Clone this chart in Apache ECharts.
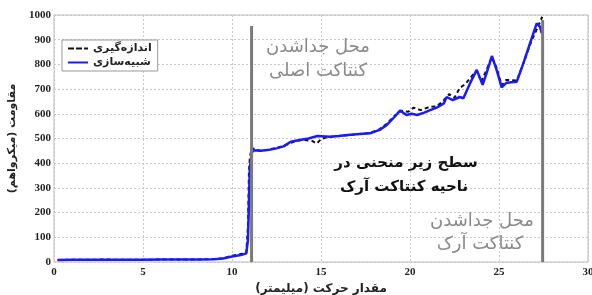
<!DOCTYPE html>
<html lang="fa">
<head>
    <meta charset="UTF-8">
    <script src="https://cdn.jsdelivr.net/npm/echarts@6/dist/echarts.min.js"></script>
    <title>مقاومت</title>
</head>
<body style="margin:0;">
<div id="container" style="width:592px;height:295px;"></div>
<script>
    // measured curve (black dashed)
    let measured = [
        [0.2, 8], [1, 9], [2, 9], [2.7, 10], [2.8, 16], [2.9, 10], [4, 9], [5, 9], [6, 10], [7, 10],
        [8, 10], [9, 12], [9.5, 15], [10, 25], [10.5, 32], [10.8, 35], [10.9, 150], [10.95, 360],
        [11.0, 420], [11.1, 462], [11.2, 455], [11.6, 450], [12.0, 455], [12.5, 462], [12.9, 470],
        [13.5, 488], [14.0, 495], [14.5, 490], [14.76, 480], [15.0, 497], [15.3, 505], [16, 510],
        [17, 517], [17.75, 522], [18.3, 538], [18.7, 560], [19.1, 590], [19.5, 612], [19.9, 608],
        [20.2, 625], [20.6, 615], [21.1, 628], [21.5, 630], [21.9, 655], [22.2, 680], [22.5, 665],
        [22.8, 705], [23.1, 720], [23.5, 755], [23.75, 775], [24.0, 730], [24.3, 778], [24.6, 830],
        [24.87, 785], [25.15, 715], [25.4, 737], [26.0, 735], [26.4, 810], [26.8, 890], [27.2, 955],
        [27.43, 993]
    ];
    // simulated curve (blue)
    let simulated = [
        [0.2, 8], [1, 9], [2, 9], [3, 9], [4, 9], [5, 9], [6, 10], [7, 10], [8, 10], [9, 11],
        [9.5, 14], [10, 22], [10.5, 28], [10.8, 35], [10.9, 90], [11.0, 380], [11.1, 440],
        [11.2, 452], [11.6, 450], [12.0, 453], [12.5, 460], [12.9, 468], [13.3, 487], [13.8, 494],
        [14.3, 500], [14.8, 510], [15.5, 507], [16, 510], [16.5, 514], [17.0, 517], [17.75, 521],
        [18.3, 535], [18.7, 555], [19.1, 585], [19.44, 613], [19.8, 595], [20.1, 600], [20.4, 595],
        [20.8, 605], [21.1, 614], [21.5, 625], [21.9, 642], [22.06, 668], [22.4, 655], [22.8, 668],
        [23.0, 663], [23.37, 723], [23.75, 778], [24.08, 717], [24.3, 764], [24.6, 834],
        [24.87, 777], [25.15, 707], [25.43, 726], [26.0, 730], [26.37, 804], [26.74, 885],
        [27.12, 966], [27.3, 953], [27.4, 926]
    ];
    // contact separation markers
    let mainContact = [[11.1, 0], [11.1, 955]];
    let arcContact = [[27.45, 0], [27.45, 980]];

    let xTicks = [0, 5, 10, 15, 20, 25, 30];
    let yTicks = [0, 100, 200, 300, 400, 500, 600, 700, 800, 900, 1000];

    let seriesNames = ['اندازه‌گیری', 'شبیه‌سازی'];
    let xName = 'مقدار حرکت (میلیمتر)';
    let yName = 'مقاومت (میکرواهم)';
    let noteMain = ['محل جداشدن', 'کنتاکت اصلی'];
    let noteArea = ['سطح زیر منحنی در', 'ناحیه کنتاکت آرک'];
    let noteArc = ['محل جداشدن', 'کنتاکت آرک'];

    let fa = 'DejaVu Sans';
    let serif = 'Liberation Serif';

    let myChart = echarts.init(document.getElementById('container'));

    let gridLine = {show: true, lineStyle: {color: '#c8c8c8', type: [2, 2], width: 1}};
    let tickLabel = {
        color: '#222', fontFamily: serif, fontWeight: 'bold', fontSize: 11,
        formatter: function (v) { return String(v); }
    };

    function txt(x, y, s, color, size, weight) {
        return {
            type: 'text', x: x, y: y, z: 10,
            style: {text: s, fill: color, font: weight + ' ' + size + 'px "' + fa + '"', align: 'center', verticalAlign: 'middle'}
        };
    }

    let option = {
        animation: false,
        backgroundColor: '#fff',
        grid: {
            left: 54, right: 4, top: 15, bottom: 33, show: true, borderColor: '#bbb', borderWidth: 1,
            outerBoundsMode: 'none', containLabel: false
        },
        legend: {
            orient: 'vertical', left: 62, top: 40,
            data: [
                {name: seriesNames[0], icon: 'path://M0,0h6v2h-6zM8,0h6v2h-6zM16,0h4v2h-4z'},
                {name: seriesNames[1], icon: 'path://M0,0h20v2h-20z'}
            ],
            backgroundColor: '#fff', borderColor: '#999', borderWidth: 1,
            padding: [3, 6], itemGap: 3, itemWidth: 20, itemHeight: 3,
            textStyle: {fontFamily: fa, fontWeight: 'bold', fontSize: 11, color: '#222'}
        },
        xAxis: {
            type: 'value', min: xTicks[0], max: xTicks[xTicks.length - 1], interval: 5,
            axisLine: {show: false}, axisTick: {show: false},
            axisLabel: Object.assign({margin: 5}, tickLabel),
            splitLine: gridLine,
            name: xName, nameLocation: 'middle', nameGap: 17,
            nameTextStyle: {fontFamily: fa, fontWeight: 'bold', fontSize: 12, color: '#222'}
        },
        yAxis: {
            type: 'value', min: yTicks[0], max: yTicks[yTicks.length - 1], interval: 100,
            axisLine: {show: false}, axisTick: {show: false},
            axisLabel: Object.assign({margin: 3}, tickLabel),
            splitLine: gridLine,
            name: yName, nameLocation: 'middle', nameGap: 33, nameRotate: 90,
            nameTextStyle: {fontFamily: fa, fontWeight: 'bold', fontSize: 11, color: '#222'}
        },
        series: [
            {
                name: seriesNames[0], type: 'line', data: measured, symbol: 'none', z: 2,
                lineStyle: {color: '#111', width: 2, type: [4, 3]}, itemStyle: {color: '#111'}
            },
            {
                name: seriesNames[1], type: 'line', data: simulated, symbol: 'none', z: 3,
                lineStyle: {color: '#1a1aff', width: 2.5}, itemStyle: {color: '#1a1aff'}
            },
            {
                type: 'line', data: mainContact, symbol: 'none', z: 4,
                lineStyle: {color: '#7a7a7a', width: 3}
            },
            {
                type: 'line', data: arcContact, symbol: 'none', z: 4,
                lineStyle: {color: '#7a7a7a', width: 3}
            }
        ],
        graphic: [
            txt(318, 47, noteMain[0], '#8a8a8a', 18, 'normal'),
            txt(318, 71, noteMain[1], '#8a8a8a', 18, 'normal'),
            txt(406, 163, noteArea[0], '#111', 15, 'bold'),
            txt(404, 187, noteArea[1], '#111', 15, 'bold'),
            txt(482, 221, noteArc[0], '#8a8a8a', 18, 'normal'),
            txt(480, 244, noteArc[1], '#8a8a8a', 18, 'normal')
        ]
    };
    myChart.setOption(option);
</script>
</body>
</html>
